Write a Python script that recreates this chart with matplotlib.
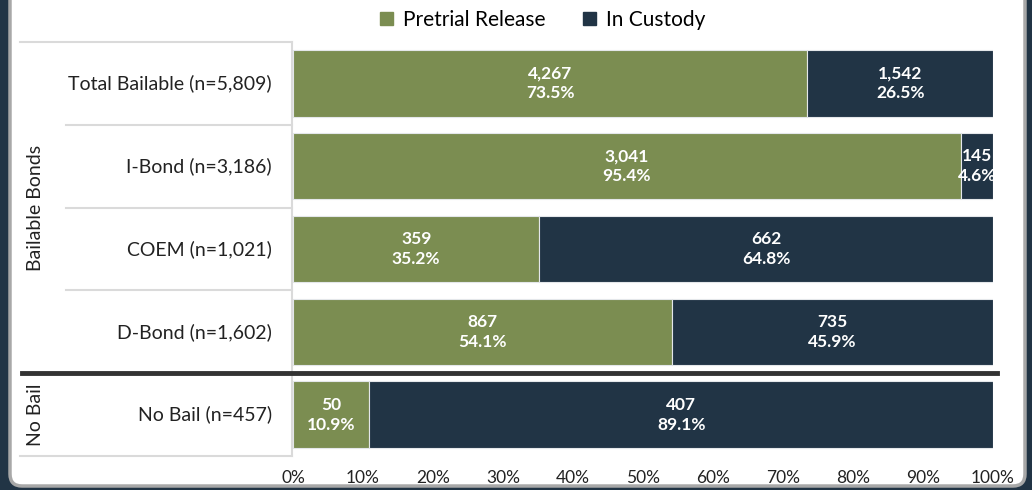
import matplotlib.pyplot as plt
import matplotlib.patches as mpatches
from matplotlib.transforms import blended_transform_factory

plt.rcParams['font.family'] = ['Lato', 'DejaVu Sans']

categories = ['Total Bailable (n=5,809)', 'I-Bond (n=3,186)', 'COEM (n=1,021)',
              'D-Bond (n=1,602)', 'No Bail (n=457)']
release_n = [4267, 3041, 359, 867, 50]
custody_n = [1542, 145, 662, 735, 407]
release_pct = [73.5, 95.4, 35.2, 54.1, 10.9]
custody_pct = [26.5, 4.6, 64.8, 45.9, 89.1]
groups = ['Bailable Bonds', 'No Bail']
xticklabels = ['0%', '10%', '20%', '30%', '40%', '50%', '60%', '70%', '80%', '90%', '100%']

green = '#7B8D51'
navy = '#213445'
W, H = 1032, 490

fig = plt.figure(figsize=(W / 100, H / 100), dpi=100)
fig.patch.set_facecolor(navy)

# background panel
bg = fig.add_axes([0, 0, 1, 1])
bg.set_xlim(0, W)
bg.set_ylim(0, H)
bg.axis('off')
panel = mpatches.FancyBboxPatch((10, 4), 1015, 520, boxstyle='round,pad=0,rounding_size=12',
                                facecolor='white', edgecolor='#A8A8A8', linewidth=2.5)
bg.add_patch(panel)

ax = fig.add_axes([293 / W, (H - 456) / H, 700 / W, 414 / H])
ax.set_facecolor('none')
y = list(range(len(categories)))
ax.barh(y, release_pct, height=0.8, color=green, edgecolor='#E4E7EA', linewidth=0.8,
        label='Pretrial Release')
ax.barh(y, custody_pct, left=release_pct, height=0.8, color=navy, edgecolor='#E4E7EA',
        linewidth=0.8, label='In Custody')

for i in y:
    ax.text(release_pct[i] / 2, i, f'{release_n[i]:,}\n{release_pct[i]:.1f}%', ha='center',
            va='center', color='white', fontweight='bold', fontsize=12.5, linespacing=1.3)
    ax.text(release_pct[i] + custody_pct[i] / 2, i, f'{custody_n[i]:,}\n{custody_pct[i]:.1f}%',
            ha='center', va='center', color='white', fontweight='bold', fontsize=12.5,
            linespacing=1.3)

ax.set_xlim(0, 100)
ax.set_ylim(4.5, -0.5)
ax.set_xticks(range(0, 101, 10))
ax.set_xticklabels(xticklabels, fontsize=12.5, color='#222222')
ax.tick_params(axis='x', length=0, pad=10)
ax.set_yticks([])
for s in ax.spines.values():
    s.set_visible(False)

tr = blended_transform_factory(ax.transAxes, ax.transData)
lgray = '#DADADA'
for yy in [0.5, 1.5, 2.5]:
    ax.plot([-0.324, -0.002], [yy, yy], color=lgray, lw=1.5, transform=tr, clip_on=False)
ax.plot([-0.39, -0.002], [-0.5, -0.5], color=lgray, lw=1.5, transform=tr, clip_on=False)
ax.plot([-0.39, -0.002], [4.5, 4.5], color=lgray, lw=1.5, transform=tr, clip_on=False)
ax.plot([-0.002, -0.002], [-0.5, 4.5], color=lgray, lw=1.5, transform=tr, clip_on=False)
ax.plot([-0.387, 1.006], [3.5, 3.5], color='#333333', lw=3.5, transform=tr, clip_on=False)

for i, lab in enumerate(categories):
    ax.text(-0.03, i, lab, ha='right', va='center', fontsize=14, color='#222222',
            transform=tr)
ax.text(-0.368, 1.5, groups[0], rotation=90, ha='center', va='center', fontsize=14,
        color='#222222', transform=tr)
ax.text(-0.368, 4.0, groups[1], rotation=90, ha='center', va='center', fontsize=14,
        color='#222222', transform=tr)

handles = [mpatches.Patch(color=green, label='Pretrial Release'),
           mpatches.Patch(color=navy, label='In Custody')]
fig.legend(handles=handles, loc='center', bbox_to_anchor=(543 / W, 1 - 20 / H), ncol=2,
           frameon=False, fontsize=15, handlelength=0.6, handleheight=0.6,
           handletextpad=0.5, columnspacing=1.8)

fig.savefig('out.png', dpi=100, facecolor=fig.get_facecolor())
